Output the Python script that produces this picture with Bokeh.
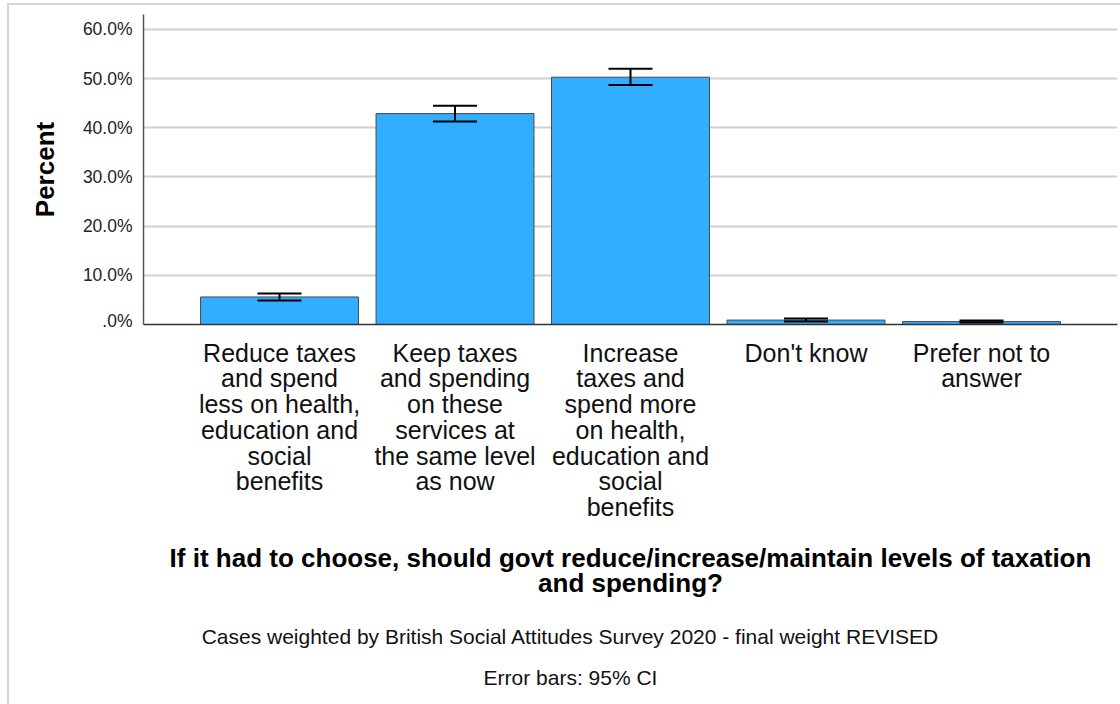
from bokeh.plotting import figure
from bokeh.layouts import column
from bokeh.models import (Range1d, FixedTicker, ColumnDataSource, Whisker, TeeHead)
from bokeh.core.properties import value
from bokeh.embed import file_html
from bokeh.resources import INLINE

categories = [
    "Reduce taxes\nand spend\nless on health,\neducation and\nsocial\nbenefits",
    "Keep taxes\nand spending\non these\nservices at\nthe same level\nas now",
    "Increase\ntaxes and\nspend more\non health,\neducation and\nsocial\nbenefits",
    "Don't know",
    "Prefer not to\nanswer",
]
percent = [5.6, 42.9, 50.3, 0.9, 0.6]
ci_lower = [4.9, 41.3, 48.7, 0.6, 0.4]
ci_upper = [6.3, 44.5, 52.0, 1.2, 0.8]
y_ticks = [0, 10, 20, 30, 40, 50, 60]
y_tick_labels = [".0%", "10.0%", "20.0%", "30.0%", "40.0%", "50.0%", "60.0%"]

x_title = "If it had to choose, should govt reduce/increase/maintain levels of taxation\nand spending?"
note1 = "Cases weighted by British Social Attitudes Survey 2020 - final weight REVISED"
note2 = "Error bars: 95% CI"

FONT = "Liberation Sans"
W = 1111

xs = list(range(len(categories)))
src = ColumnDataSource(dict(x=xs, top=percent, lo=ci_lower, hi=ci_upper))

p = figure(width=W, height=325, output_backend="svg", toolbar_location=None,
           x_range=Range1d(-0.775, len(categories) - 1 + 0.775),
           y_range=Range1d(0, 63.05),
           min_border_left=134, min_border_right=3, min_border_top=9,
           min_border_bottom=6)
p.outline_line_color = None

p.vbar(x="x", top="top", width=0.9, source=src, fill_color="#33adff",
       line_color="#4a4a4a", line_width=1)

w = Whisker(base="x", lower="lo", upper="hi", source=src, line_color="black",
            line_width=2, level="overlay",
            upper_head=TeeHead(size=44, line_color="black", line_width=2),
            lower_head=TeeHead(size=44, line_color="black", line_width=2))
p.add_layout(w)

# y axis
p.yaxis.ticker = FixedTicker(ticks=y_ticks)
p.yaxis.major_label_overrides = {t: l for t, l in zip(y_ticks, y_tick_labels)}
p.yaxis.major_label_text_font = FONT
p.yaxis.major_label_text_font_size = "17.5px"
p.yaxis.major_label_text_color = "#222222"
p.yaxis.major_tick_out = 0
p.yaxis.major_tick_in = 0
p.yaxis.minor_tick_out = 0
p.yaxis.minor_tick_in = 0
p.yaxis.major_label_standoff = 11
p.yaxis.axis_line_color = "#555555"
p.yaxis.axis_line_width = 1.5
p.yaxis.axis_label = "Percent"
p.yaxis.axis_label_text_font = FONT
p.yaxis.axis_label_text_font_style = "bold"
p.yaxis.axis_label_text_font_size = "26px"
p.yaxis.axis_label_text_color = "black"
p.yaxis.axis_label_standoff = 20

# x axis: line only, category labels drawn below with the same x scale
p.xaxis.ticker = FixedTicker(ticks=[])
p.xaxis.major_tick_out = 0
p.xaxis.major_tick_in = 0
p.xaxis.minor_tick_out = 0
p.xaxis.minor_tick_in = 0
p.xaxis.axis_line_color = "#333333"
p.xaxis.axis_line_width = 1.5

p.xgrid.grid_line_color = None
p.ygrid.grid_line_color = "#d0d0d0"
p.ygrid.grid_line_width = 2
p.ygrid.ticker = FixedTicker(ticks=y_ticks)

# lower panel for category labels, axis title and notes (y in px from top)
H2 = 374
q = figure(width=W, height=H2, output_backend="svg", toolbar_location=None,
           x_range=p.x_range, y_range=Range1d(H2, 0),
           x_axis_type=None, y_axis_type=None,
           min_border_left=134, min_border_right=3, min_border_top=0,
           min_border_bottom=0)
q.outline_line_color = None
q.grid.visible = False

q.text(x=xs, y=[8] * len(xs), text=categories, text_align="center",
       text_baseline="top", text_font=value(FONT), text_font_size="25px",
       text_line_height=0.92, text_color="#111111")

q.text(x=[2.0], y=[212], text=[x_title], text_align="center",
       text_baseline="top", text_font=value(FONT), text_font_size="26px",
       text_font_style="bold", text_line_height=0.84, text_color="black")

q.text(x=[1.658], y=[306], text=[note1], text_align="center",
       text_baseline="middle", text_font=value(FONT), text_font_size="21px",
       text_color="#111111")
q.text(x=[1.658], y=[347], text=[note2], text_align="center",
       text_baseline="middle", text_font=value(FONT), text_font_size="21px",
       text_color="#111111")

layout = column(p, q, spacing=0,
                styles={"margin-left": "9px", "margin-top": "5px",
                        "outline": "2px solid #d4d4d4"})

open("out.html", "w").write(file_html(layout, INLINE))
